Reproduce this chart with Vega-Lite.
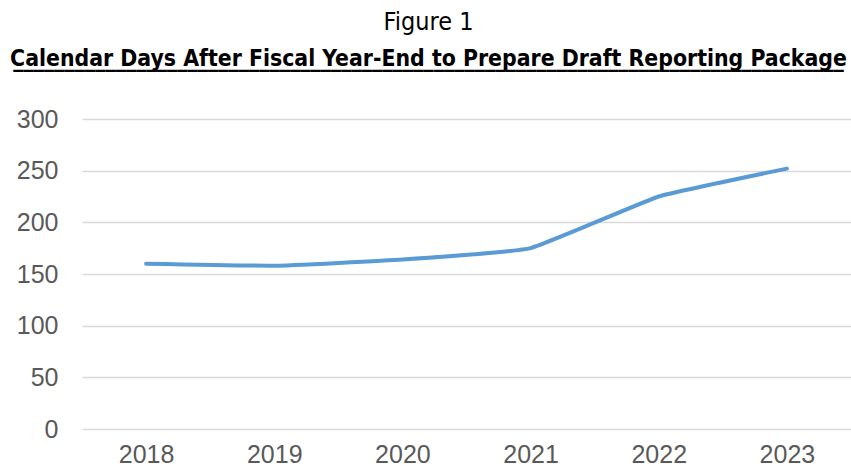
{
  "$schema": "https://vega.github.io/schema/vega-lite/v6.json",
  "width": 769,
  "height": 310,
  "autosize": {"type": "none"},
  "padding": {"left": 82, "top": 119, "right": 0, "bottom": 37},
  "background": "white",
  "title": {
    "text": "Figure 1",
    "subtitle": ["Calendar Days After Fiscal Year-End to Prepare Draft Reporting Package", "_________________________________________________________________________________"],
    "anchor": "middle",
    "dx": -38,
    "offset": 35,
    "font": "DejaVu Sans Condensed",
    "fontSize": 25,
    "fontWeight": "normal",
    "color": "#000000",
    "subtitleFont": "DejaVu Sans Condensed",
    "subtitleFontSize": 22.8,
    "subtitleFontWeight": "bold",
    "subtitleColor": "#000000",
    "subtitleLineHeight": 1,
    "subtitlePadding": 13
  },
  "data": {
    "values": [
      {"year": "2018", "days": 160},
      {"year": "2019", "days": 158},
      {"year": "2020", "days": 164},
      {"year": "2021", "days": 175},
      {"year": "2022", "days": 225},
      {"year": "2023", "days": 252}
    ]
  },
  "mark": {"type": "line", "interpolate": "cardinal", "tension": 0.7, "strokeWidth": 4, "color": "#5B9BD5", "strokeCap": "round", "strokeJoin": "round"},
  "encoding": {
    "x": {
      "field": "year", "type": "ordinal",
      "scale": {"type": "point", "padding": 0.5},
      "axis": {"title": null, "domain": false, "ticks": false, "labelAngle": 0, "labelFont": "Liberation Sans", "labelFontSize": 25, "labelColor": "#595959", "labelPadding": 13}
    },
    "y": {
      "field": "days", "type": "quantitative",
      "scale": {"domain": [0, 300], "nice": false},
      "axis": {"title": null, "values": [0, 50, 100, 150, 200, 250, 300], "domain": false, "ticks": false, "grid": true, "gridColor": "#d9d9d9", "gridWidth": 1.5, "labelFont": "Liberation Sans", "labelFontSize": 25, "labelColor": "#595959", "labelPadding": 24}
    }
  },
  "config": {"view": {"stroke": null}}
}
